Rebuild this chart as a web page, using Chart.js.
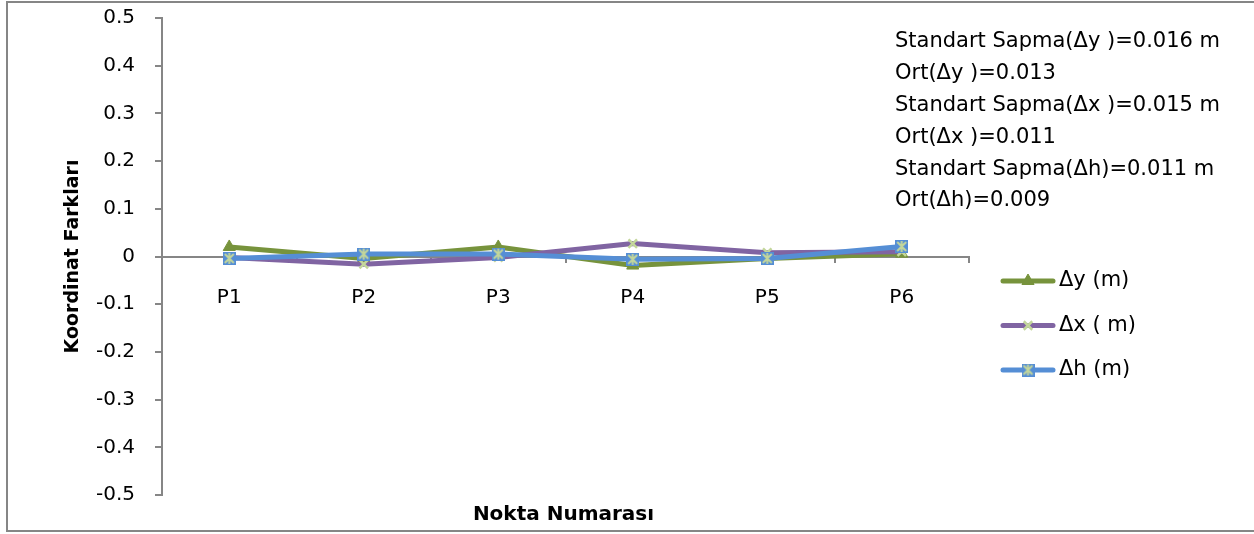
<!DOCTYPE html>
<html>
<head>
<meta charset="utf-8">
<script src="https://cdn.jsdelivr.net/npm/chart.js@4/dist/chart.umd.min.js"></script>
<style>
  html, body { margin: 0; padding: 0; background: #fff; }
  #wrap { width: 1254px; height: 534px; position: relative; }
</style>
</head>
<body>
<div id="wrap"><canvas id="chart" width="1254" height="534"></canvas></div>
<script>
// ---- data ----
const points = ['P1', 'P2', 'P3', 'P4', 'P5', 'P6'];
const deltaY = [0.02, -0.004, 0.02, -0.019, -0.004, 0.006];
const deltaX = [-0.002, -0.016, -0.002, 0.027, 0.008, 0.01];
const deltaH = [-0.004, 0.005, 0.005, -0.006, -0.004, 0.021];
const seriesNames = ['Δy (m)', 'Δx ( m)', 'Δh (m)'];
const statLines = [
    'Standart Sapma(Δy )=0.016 m',
    'Ort(Δy )=0.013',
    'Standart Sapma(Δx )=0.015 m',
    'Ort(Δx )=0.011',
    'Standart Sapma(Δh)=0.011 m',
    'Ort(Δh)=0.009'
];

const FONT = '"DejaVu Sans", sans-serif';
const GREEN = '#77933C';
const PURPLE = '#8064A2';
const BLUE = '#558ED5';
const LIGHT = '#C3D69B';
const AXIS = '#868686';

// marker for Δh: blue square with light green star
function starSquare() {
    const c = document.createElement('canvas');
    c.width = 13; c.height = 13;
    const g = c.getContext('2d');
    g.fillStyle = BLUE;
    g.fillRect(0, 0, 13, 13);
    g.strokeStyle = LIGHT;
    g.lineWidth = 2;
    g.beginPath();
    g.moveTo(2, 2); g.lineTo(11, 11);
    g.moveTo(11, 2); g.lineTo(2, 11);
    g.moveTo(6.5, 1); g.lineTo(6.5, 12);
    g.stroke();
    return c;
}
const hMarker = starSquare();

// legend, stat text, x title, outer frame
const extras = {
    id: 'extras',
    afterDraw(chart) {
        const ctx = chart.ctx;
        const area = chart.chartArea;
        ctx.save();
        ctx.strokeStyle = AXIS;
        ctx.lineWidth = 2;
        ctx.strokeRect(7, 2, 1254, 529);

        ctx.fillStyle = '#000';
        ctx.font = '21px ' + FONT;
        ctx.textAlign = 'left';
        ctx.textBaseline = 'middle';
        statLines.forEach((t, i) => ctx.fillText(t, 895, 42 + i * 31.8));

        ctx.font = 'bold 20px ' + FONT;
        ctx.textAlign = 'center';
        ctx.fillText('Nokta Numarası', (area.left + area.right) / 2 - 2, 515);

        // legend
        ctx.font = '21px ' + FONT;
        ctx.textAlign = 'left';
        chart.data.datasets.forEach((ds, i) => {
            const y = 281 + i * 44.5;
            ctx.strokeStyle = ds.borderColor;
            ctx.lineWidth = 5;
            ctx.lineCap = 'round';
            ctx.beginPath();
            ctx.moveTo(1003, y);
            ctx.lineTo(1053, y);
            ctx.stroke();
            ctx.fillStyle = ds.pointBackgroundColor || ds.borderColor;
            ctx.strokeStyle = ds.pointBorderColor || ds.borderColor;
            ctx.lineWidth = ds.pointBorderWidth || 1;
            ctx.lineCap = 'butt';
            Chart.helpers.drawPoint(ctx, {
                pointStyle: ds.pointStyle,
                radius: ds.pointRadius,
                borderWidth: ds.pointBorderWidth || 1,
                rotation: 0
            }, 1028, y);
            ctx.fillStyle = '#000';
            ctx.fillText(seriesNames[i], 1059, y);
        });
        ctx.restore();
    }
};

new Chart(document.getElementById('chart').getContext('2d'), {
    type: 'line',
    data: {
        labels: points,
        datasets: [
            {
                label: seriesNames[0],
                data: deltaY,
                borderColor: GREEN,
                backgroundColor: GREEN,
                borderWidth: 5,
                pointStyle: 'triangle',
                pointRadius: 7,
                pointBackgroundColor: GREEN,
                pointBorderColor: GREEN,
                pointBorderWidth: 1,
                tension: 0,
                order: 2
            },
            {
                label: seriesNames[1],
                data: deltaX,
                borderColor: PURPLE,
                backgroundColor: PURPLE,
                borderWidth: 5,
                pointStyle: 'crossRot',
                pointRadius: 6,
                pointBorderColor: LIGHT,
                pointBorderWidth: 2.5,
                tension: 0,
                order: 1
            },
            {
                label: seriesNames[2],
                data: deltaH,
                borderColor: BLUE,
                backgroundColor: BLUE,
                borderWidth: 5,
                pointStyle: hMarker,
                pointRadius: 6,
                tension: 0,
                order: 0
            }
        ]
    },
    options: {
        responsive: false,
        animation: false,
        layout: { padding: { left: 0, top: 18, right: 285, bottom: 39 } },
        plugins: {
            legend: { display: false },
            tooltip: { enabled: false }
        },
        scales: {
            x: {
                position: { y: 0 },
                offset: true,
                grid: {
                    offset: true,
                    drawOnChartArea: false,
                    drawTicks: true,
                    tickLength: 5,
                    color: AXIS,
                    lineWidth: 2
                },
                border: { color: AXIS, width: 2 },
                ticks: {
                    color: '#000',
                    font: { family: FONT, size: 20 },
                    padding: 24,
                    maxRotation: 0
                }
            },
            y: {
                min: -0.5,
                max: 0.5,
                afterFit(scale) {
                    scale.width = 162;
                    scale.paddingTop = 0;
                    scale.paddingBottom = 0;
                },
                grid: {
                    drawOnChartArea: false,
                    drawTicks: true,
                    tickLength: 7,
                    color: AXIS,
                    lineWidth: 2
                },
                border: { color: AXIS, width: 2 },
                ticks: {
                    stepSize: 0.1,
                    color: '#000',
                    padding: 20,
                    font: { family: FONT, size: 20 },
                    callback: v => {
                        const r = Math.round(v * 10) / 10;
                        return r === 0 ? '0' : r.toFixed(1);
                    }
                },
                title: {
                    display: true,
                    text: 'Koordinat Farkları',
                    color: '#000',
                    font: { family: FONT, size: 19, weight: 'bold' },
                    padding: { top: 62, bottom: 0 }
                }
            }
        }
    },
    plugins: [extras]
});
</script>
</body>
</html>
